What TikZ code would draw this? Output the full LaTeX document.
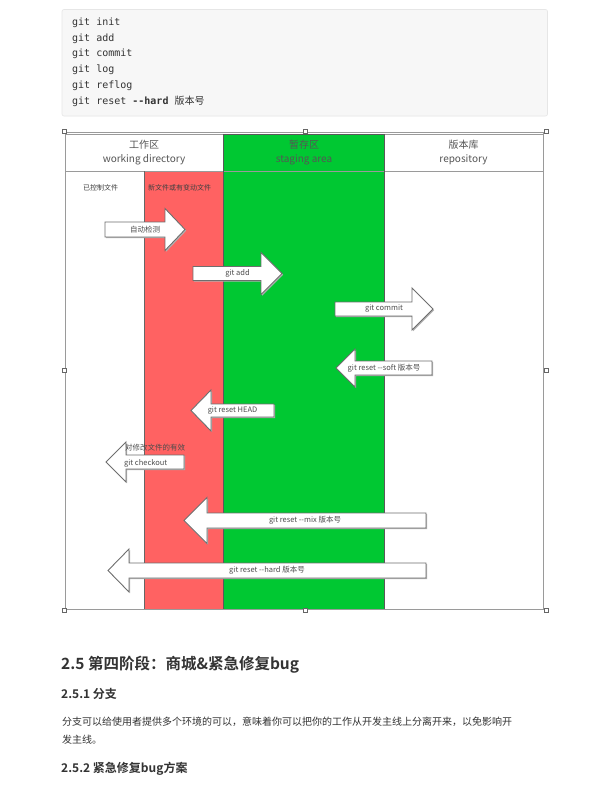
\documentclass[tikz,border=0pt]{standalone}
\usepackage{fontspec}
\setmainfont{Noto Sans CJK SC}
\newfontfamily\cjk{Noto Sans CJK SC}
\newfontfamily\cjkb{Noto Sans CJK SC Bold}
\newfontfamily\codefont{DejaVu Sans Mono}
\definecolor{codebg}{HTML}{F7F7F7}
\definecolor{codebd}{HTML}{E6E6E6}
\definecolor{codetx}{HTML}{333333}
\definecolor{redcol}{HTML}{FF6262}
\definecolor{greencol}{HTML}{00C832}
\definecolor{frame}{HTML}{9A9A9A}
\definecolor{labtx}{HTML}{555555}
\definecolor{arrbd}{HTML}{6E6E6E}
\definecolor{shadowc}{HTML}{B0B0B0}
\definecolor{bodytx}{HTML}{333333}
\tikzset{
  codeline/.style={anchor=west, inner sep=0pt, font=\codefont\fontsize{10}{12}\selectfont, text=codetx},
  headlab/.style={align=center, inner sep=0pt, font=\cjk\fontsize{10}{13.5}\selectfont, text=labtx},
  smalllab/.style={anchor=west, inner sep=0pt, font=\cjk\fontsize{7}{8}\selectfont, text=black!75},
  arrlab/.style={inner sep=0pt, font=\cjk\fontsize{7.5}{8}\selectfont, text=black!70},
  blk/.style={fill=white, draw=arrbd, line width=0.9pt, line join=miter},
  blkshadow/.style={fill=shadowc},
  handle/.style={draw=black!60, fill=white, line width=0.4pt, minimum size=4pt, inner sep=0pt},
}
% right-pointing block arrow: left x, head base x, tip x, centre y, body half height, head half height, name
\newcommand\blockR[7]{%
  \fill[blkshadow,xshift=1.2pt,yshift=-1.2pt] (#1,{#4-#5}) -- (#2,{#4-#5}) -- (#2,{#4-#6}) -- (#3,#4) -- (#2,{#4+#6}) -- (#2,{#4+#5}) -- (#1,{#4+#5}) -- cycle;
  \draw[blk] (#1,{#4-#5}) -- (#2,{#4-#5}) -- (#2,{#4-#6}) -- (#3,#4) -- (#2,{#4+#6}) -- (#2,{#4+#5}) -- (#1,{#4+#5}) -- cycle;
  \coordinate (#7) at ({(#1+#3)/2},#4);}
% left-pointing block arrow: tip x, head base x, right x, centre y, body half height, head half height, name
\newcommand\blockL[7]{%
  \fill[blkshadow,xshift=1.2pt,yshift=-1.2pt] (#3,{#4-#5}) -- (#2,{#4-#5}) -- (#2,{#4-#6}) -- (#1,#4) -- (#2,{#4+#6}) -- (#2,{#4+#5}) -- (#3,{#4+#5}) -- cycle;
  \draw[blk] (#3,{#4-#5}) -- (#2,{#4-#5}) -- (#2,{#4-#6}) -- (#1,#4) -- (#2,{#4+#6}) -- (#2,{#4+#5}) -- (#3,{#4+#5}) -- cycle;
  \coordinate (#7) at ({(#1+#3)/2},#4);}
\begin{document}
\begin{tikzpicture}[x=1pt,y=-1pt]
\useasboundingbox (0,0) rectangle (613,796);
\fill[white] (0,0) rectangle (613,796);

% code block
\draw[fill=codebg, draw=codebd, line width=0.6pt, rounded corners=2pt] (62,9.5) rectangle (547.5,116);
\node[codeline] (c1) at (72,23) {git init};
\node[codeline] (c2) at (72,38.6) {git add};
\node[codeline] (c3) at (72,54.2) {git commit};
\node[codeline] (c4) at (72,69.8) {git log};
\node[codeline] (c5) at (72,85.4) {git reflog};
\node[codeline] (c6) at (72,101) {git reset \textbf{-{}-hard} {\cjk 版本号}};

% diagram columns
\fill[redcol] (144,171) rectangle (223.5,609);
\fill[greencol] (223.5,134) rectangle (384,609);
\draw[frame, line width=0.8pt] (65,132) rectangle (543,609);
\draw[frame, line width=0.8pt] (65,134) -- (543,134);
\draw[frame, line width=1pt] (65,171) -- (543,171);
\draw[black!60, line width=0.8pt] (144,171) -- (144,609);
\draw[black!65, line width=1pt] (223.5,134) -- (223.5,609);
\draw[black!65, line width=1pt] (384,134) -- (384,609);
\draw[black!65, line width=1pt] (223.5,134) -- (384,134);

% selection handles
\foreach \hx/\hy [count=\i] in {64/131,305/131,546/131,64/370,546/370,64/610,305/610,546/610}
  \node[handle] (h\i) at (\hx,\hy) {};

% headers
\node[headlab] (wd) at (144,152.5) {工作区\\working directory};
\node[headlab] (sa) at (304,152.5) {暂存区\\staging area};
\node[headlab] (rp) at (463.5,152.5) {版本库\\repository};
\node[smalllab] (ctrl) at (83,188) {已控制文件};
\node[smalllab] (newf) at (148,188) {新文件或有变动文件};

% block arrows
\blockR{105}{165}{185}{229.5}{7.5}{21}{a1}
\node[arrlab] (t1) at (a1) {自动检测};
\blockR{193}{261}{282}{273.5}{7}{21}{a2}
\node[arrlab] (t2) at (a2) {git add};
\blockR{335}{412}{433}{309}{7}{21}{a3}
\node[arrlab] (t3) at (a3) {git commit};
\blockL{336}{355}{432}{368}{7}{19}{a4}
\node[arrlab] (t4) at (a4) {git reset -{}-soft 版本号};
\blockL{191}{211}{274}{410.5}{6.5}{20.5}{a5}
\node[arrlab] (t5) at (a5) {git reset HEAD};
\blockL{106}{126}{184}{462}{7}{20}{a6}
\node[arrlab, anchor=west] (t6) at (124,463) {git checkout};
\node[arrlab, anchor=west] (t6b) at (125,448) {对修改文件的有效};
\blockL{184}{207}{426}{520.5}{7.5}{23}{a7}
\node[arrlab] (t7) at (a7) {git reset -{}-mix 版本号};
\blockL{108}{129}{426}{570.5}{7.5}{21.5}{a8}
\node[arrlab] (t8) at (a8) {git reset -{}-hard 版本号};

% text below
\node[anchor=base west, inner sep=0pt, font=\cjkb\fontsize{15.5}{20}\selectfont, text=bodytx] (h25) at (61,669) {2.5 第四阶段：商城\&紧急修复bug};
\node[anchor=base west, inner sep=0pt, font=\cjkb\fontsize{12}{16}\selectfont, text=bodytx] (h251) at (61,698) {2.5.1 分支};
\node[anchor=base west, inner sep=0pt, font=\cjk\fontsize{10}{12}\selectfont, text=bodytx] (p1) at (62,725.5) {分支可以给使用者提供多个环境的可以，意味着你可以把你的工作从开发主线上分离开来，以免影响开};
\node[anchor=base west, inner sep=0pt, font=\cjk\fontsize{10}{12}\selectfont, text=bodytx] (p2) at (62,743.5) {发主线。};
\node[anchor=base west, inner sep=0pt, font=\cjkb\fontsize{12}{16}\selectfont, text=bodytx] (h252) at (61,772.5) {2.5.2 紧急修复bug方案};
\end{tikzpicture}
\end{document}
